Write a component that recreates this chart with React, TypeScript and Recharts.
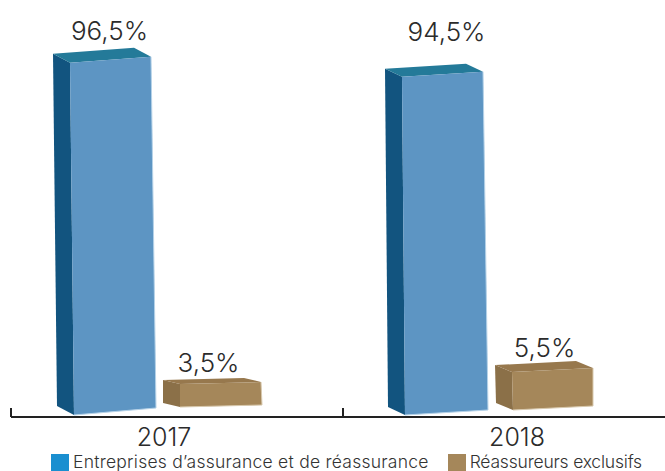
import { Bar, BarChart, LabelList, Legend, XAxis, YAxis } from 'recharts'

const years = ['2017', '2018']
// Published shares, shown as the labels above the blocks
const entreprisesValues = [96.5, 94.5]
const reassureursValues = [3.5, 5.5]
// Block heights as drawn: the artwork is not to scale with its labels
const entreprisesDrawn = [96.5, 92.7]
const reassureursDrawn = [6.3, 10.4]

const entreprisesName = 'Entreprises d’assurance et de réassurance'
const reassureursName = 'Réassureurs exclusifs'

const data = years.map((year, i) => ({
  year,
  entreprises: entreprisesDrawn[i],
  reassureurs: reassureursDrawn[i],
  entreprisesLabel: entreprisesValues[i],
  reassureursLabel: reassureursValues[i],
}))

const FONT = 'Inter, sans-serif'
const BASELINE = 417
const GROUP_SHIFT = -12

const entreprisesLook = {
  front: '#5d95c3', side: '#12547f', top: '#247a99', edge: '#b5d2e8',
  lift: [2, 2], topSkew: [6, 5], bottomSkew: [7, 5], depth: [9, 8], taper: [4, 3], taperRight: [5, 5],
  labelDx: [-13, -8], labelDy: [-25, -38],
}
const reassureursLook = {
  front: '#a5875a', side: '#8b7048', top: '#97784d', edge: '#d8c9ae',
  lift: [10, 7], topSkew: [2, 4], bottomSkew: [2, 4], depth: [4, 7], taper: [0, 1], taperRight: [1, 0],
  labelDx: [-24, -20], labelDy: [-22, -22],
}

type Look = typeof entreprisesLook

function block(look: Look) {
  return function Block(props: any) {
    const { width: w, y, index: i } = props
    const x = props.x + GROUP_SHIFT
    const lift = look.lift[i]
    const d = look.depth[i]
    const top = y - lift
    const bottom = BASELINE - lift
    const fl = [x, top]
    const fr = [x + w, top - look.topSkew[i]]
    const br = [x + w + look.taperRight[i], bottom - look.bottomSkew[i]]
    const bl = [x + look.taper[i], bottom]
    const pts = (list: number[][]) => list.map((p) => p.join(',')).join(' ')
    return (
      <g>
        <polygon points={pts([[fl[0] - 17, fl[1] - d], fl, bl, [bl[0] - 17, bl[1] - d]])} fill={look.side} />
        <polygon points={pts([[fl[0] - 17, fl[1] - d], [fr[0] - 17, fr[1] - d], fr, fl])} fill={look.top} />
        <polygon points={pts([fl, fr, br, bl])} fill={look.front} />
        <polyline points={pts([fr, br, bl])} fill="none" stroke={look.edge} strokeWidth={1} />
      </g>
    )
  }
}

function blockLabel(look: Look) {
  return function BlockLabel(props: any) {
    const { viewBox, index: i, value } = props
    return (
      <text
        x={viewBox.x + viewBox.width / 2 + look.labelDx[i]}
        y={viewBox.y + look.labelDy[i]}
        textAnchor="middle"
        fontFamily={FONT}
        fontWeight={300}
        fontSize={26}
        fill="#2b2b2b"
      >
        {String(value).replace('.', ',')}%
      </text>
    )
  }
}

const yearDx = [-13, 8]

// Year text plus the tick mark standing on the left edge of its band
function YearTick(props: any) {
  const { x, index, payload, width } = props
  const edge = x - width / years.length / 2
  return (
    <g>
      <line x1={edge} x2={edge} y1={BASELINE} y2={BASELINE - 9} stroke="#222" strokeWidth={2} />
      <text x={x + yearDx[index]} y={446} textAnchor="middle" fontFamily={FONT} fontWeight={300} fontSize={25} fill="#2b2b2b">
        {payload.value}
      </text>
    </g>
  )
}

function legendText(value: string) {
  const first = value === entreprisesName
  return (
    <span style={{ color: '#333', letterSpacing: first ? 0.25 : -0.2, marginRight: first ? 9 : 0 }}>{value}</span>
  )
}

export default function App() {
  return (
    <div style={{ position: 'fixed', left: 0, top: 0, width: 665, height: 471, overflow: 'hidden', background: '#fff' }}>
      <BarChart
        width={675}
        height={471}
        data={data}
        margin={{ top: 52, right: 0, bottom: 0, left: 11 }}
        barSize={81}
        barGap={29}
      >
        <XAxis
          dataKey="year"
          height={38}
          tick={<YearTick />}
          tickLine={false}
          axisLine={{ stroke: '#222', strokeWidth: 2 }}
          interval={0}
        />
        <YAxis hide domain={[0, 100]} />
        <Bar dataKey="entreprises" name={entreprisesName} fill="#1a8fd0" shape={block(entreprisesLook)} isAnimationActive={false}>
          <LabelList dataKey="entreprisesLabel" content={blockLabel(entreprisesLook)} />
        </Bar>
        <Bar dataKey="reassureurs" name={reassureursName} fill="#a5875a" shape={block(reassureursLook)} isAnimationActive={false}>
          <LabelList dataKey="reassureursLabel" content={blockLabel(reassureursLook)} />
        </Bar>
        <Legend
          align="left"
          iconType="square"
          iconSize={18}
          height={16}
          wrapperStyle={{ left: 51, top: 451, width: 640, height: 16, fontFamily: FONT, fontWeight: 300, fontSize: 17.5, whiteSpace: 'nowrap' }}
          formatter={legendText}
        />
      </BarChart>
    </div>
  )
}
